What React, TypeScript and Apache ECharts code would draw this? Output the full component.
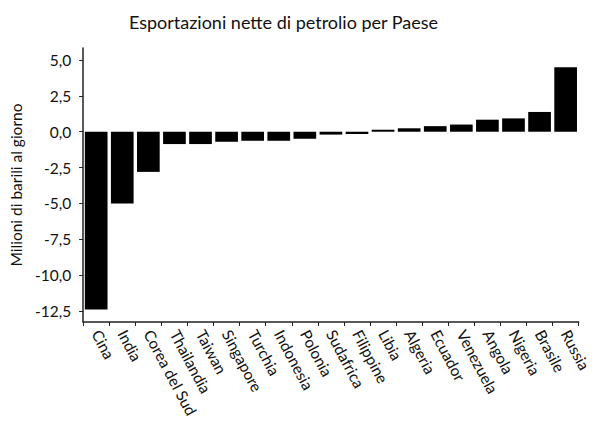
import React, { useEffect, useRef } from "react";
import * as echarts from "echarts";

const TITLE = "Esportazioni nette di petrolio per Paese";
const Y_NAME = "Milioni di barili al giorno";
const countries = [
  "Cina", "India", "Corea del Sud", "Thailandia", "Taiwan", "Singapore", "Turchia",
  "Indonesia", "Polonia", "Sudafrica", "Filippine", "Libia", "Algeria", "Ecuador",
  "Venezuela", "Angola", "Nigeria", "Brasile", "Russia",
];
const netExports = [
  -12.4, -5.0, -2.8, -0.86, -0.86, -0.7, -0.63, -0.63, -0.49, -0.2, -0.16,
  0.14, 0.24, 0.39, 0.5, 0.84, 0.93, 1.38, 4.5,
];
const yTicks = [-12.5, -10, -7.5, -5, -2.5, 0, 2.5, 5];
const Y_MIN = -13.27;
const Y_MAX = 5.84;

const FONT = "Lato";

export default function App() {
  const ref = useRef<HTMLDivElement>(null);
  useEffect(() => {
    if (!ref.current) return;
    const chart = echarts.init(ref.current, undefined, { renderer: "svg" });
    chart.setOption({
      animation: false,
      backgroundColor: "#ffffff",
      textStyle: { fontFamily: FONT },
      graphic: [
        {
          type: "text",
          x: 283.5,
          y: 22,
          style: {
            text: TITLE,
            fontFamily: FONT,
            fontSize: 18,
            fill: "#111",
            textAlign: "center",
            textVerticalAlign: "middle",
          },
        },
      ],
      grid: { left: 76, right: 13, top: 48, bottom: 101, containLabel: false },
      xAxis: {
        type: "category",
        data: countries,
        position: "bottom",
        axisLine: { onZero: false, lineStyle: { color: "#222", width: 1.5 } },
        axisTick: { show: true, length: 4, lineStyle: { color: "#222" } },
        axisLabel: {
          rotate: -62,
          margin: 9,
          fontFamily: FONT,
          fontSize: 15.5,
          color: "#111",
          interval: 0,
        },
      },
      yAxis: {
        type: "value",
        min: Y_MIN,
        max: Y_MAX,
        name: Y_NAME,
        nameLocation: "middle",
        nameGap: 58,
        nameTextStyle: { fontFamily: FONT, fontSize: 15.5, color: "#111" },
        axisLine: { show: true, lineStyle: { color: "#222", width: 1.5 } },
        axisTick: { show: true, length: 4, customValues: yTicks, lineStyle: { color: "#222" } },
        axisLabel: {
          customValues: yTicks,
          margin: 12,
          fontFamily: FONT,
          fontSize: 15.5,
          color: "#111",
          formatter: (v: number) => v.toFixed(1).replace(".", ","),
        },
        splitLine: { show: false },
      },
      series: [
        {
          type: "bar",
          data: netExports,
          barCategoryGap: "13%",
          itemStyle: { color: "#000000" },
        },
      ],
    });
    return () => chart.dispose();
  }, []);
  return <div ref={ref} style={{ width: 594, height: 423, position: "absolute", left: 0, top: 0 }} />;
}
